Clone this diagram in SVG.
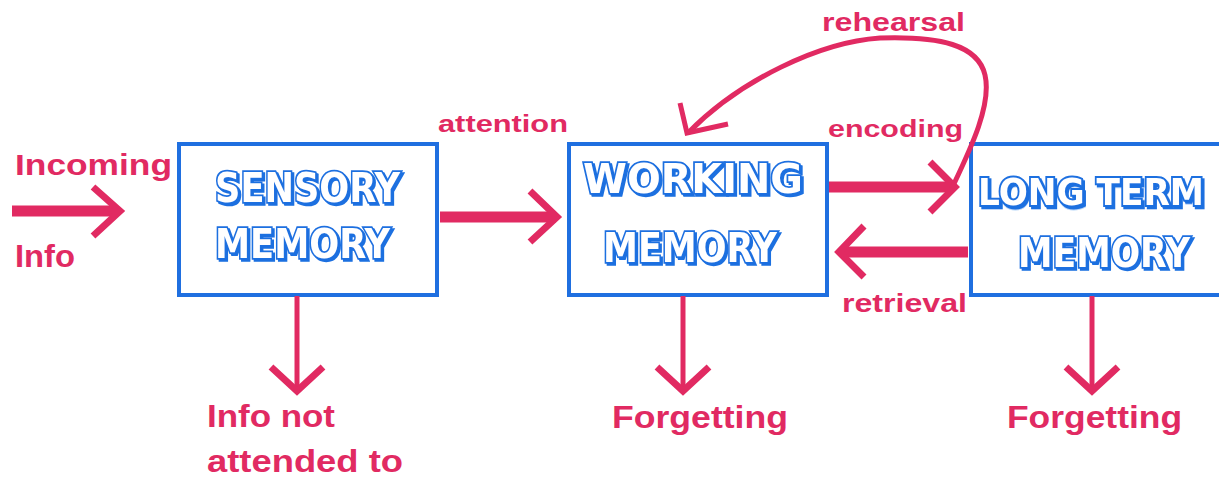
<svg xmlns="http://www.w3.org/2000/svg" width="1219" height="477" viewBox="0 0 1219 477">
<defs>
<filter id="shadow" x="-5%" y="-20%" width="110%" height="150%">
<feDropShadow dx="2" dy="2" stdDeviation="0" flood-color="#1f6fe0" flood-opacity="1"/>
</filter>
</defs>
<style>
.box{fill:#ffffff;stroke:#1f6fe0;stroke-width:4}
.bt{font-family:"DejaVu Sans","Liberation Sans",sans-serif;font-weight:bold;font-size:40px;fill:#ffffff;stroke:#1f6fe0;stroke-width:3.5;paint-order:stroke;filter:url(#shadow)}
.pt{font-family:"Liberation Sans",Arial,sans-serif;font-weight:bold;fill:#e12a62}
.shaft{stroke:#e12a62;stroke-width:11;fill:none}
.thin{stroke:#e12a62;stroke-width:5;fill:none}
.head{stroke:#e12a62;stroke-width:7;fill:none;stroke-linejoin:miter}
</style>
<rect width="1219" height="477" fill="#ffffff"/>
<g id="sensory">
<rect class="box" x="179" y="144" width="258" height="151"/>
<text class="bt" x="215" y="202" textLength="185" lengthAdjust="spacingAndGlyphs">SENSORY</text>
<text class="bt" x="215" y="258" textLength="175" lengthAdjust="spacingAndGlyphs">MEMORY</text>
</g>
<g id="working">
<rect class="box" x="569" y="144" width="258" height="151"/>
<text class="bt" x="583" y="193" textLength="220" lengthAdjust="spacingAndGlyphs">WORKING</text>
<text class="bt" x="603" y="262" textLength="174" lengthAdjust="spacingAndGlyphs">MEMORY</text>
</g>
<g id="longterm">
<rect class="box" x="971" y="144" width="262" height="151"/>
<text class="bt" transform="translate(978,205) scale(1,1.15)" x="0" y="0" font-size="33" style="font-size:33px" textLength="226" lengthAdjust="spacingAndGlyphs">LONG TERM</text>
<text class="bt" x="1018" y="267" textLength="172" lengthAdjust="spacingAndGlyphs">MEMORY</text>
</g>
<g id="connectors">
<path class="shaft" d="M12,211 L118,211"/>
<path class="head" d="M93,187 L120,211 L93,236"/>
<path class="shaft" d="M440,217 L556,217"/>
<path class="head" d="M530,191 L557,217 L530,242"/>
<path class="shaft" d="M829,187 L952,187"/>
<path class="head" d="M930,162 L955,187 L930,212"/>
<path class="shaft" d="M968,252 L840,252"/>
<path class="head" d="M864,226 L839,252 L864,277"/>
<path class="thin" d="M952,188 C970,150 992,105 985,75 C978,45 940,36 880,38 C820,42 740,80 688,133"/>
<path class="thin" d="M680,103 L687,133 L728,124"/>
<path class="thin" d="M297,296 L297,390"/>
<path class="head" d="M271,367 L297,391 L323,367"/>
<path class="thin" d="M683,296 L683,390"/>
<path class="head" d="M657,367 L683,391 L709,367"/>
<path class="thin" d="M1092,296 L1092,390"/>
<path class="head" d="M1066,367 L1092,391 L1118,367"/>
</g>
<g id="labels">
<text class="pt" x="15" y="175" font-size="30" textLength="157" lengthAdjust="spacingAndGlyphs">Incoming</text>
<text class="pt" x="15" y="267" font-size="32" textLength="60" lengthAdjust="spacingAndGlyphs">Info</text>
<text class="pt" x="438" y="132" font-size="24" textLength="130" lengthAdjust="spacingAndGlyphs">attention</text>
<text class="pt" x="822" y="31" font-size="25" textLength="143" lengthAdjust="spacingAndGlyphs">rehearsal</text>
<text class="pt" x="828" y="137" font-size="24" textLength="135" lengthAdjust="spacingAndGlyphs">encoding</text>
<text class="pt" x="842" y="312" font-size="25" textLength="125" lengthAdjust="spacingAndGlyphs">retrieval</text>
<text class="pt" x="207" y="427" font-size="32" textLength="128" lengthAdjust="spacingAndGlyphs">Info not</text>
<text class="pt" x="207" y="472" font-size="32" textLength="196" lengthAdjust="spacingAndGlyphs">attended to</text>
<text class="pt" x="612" y="428" font-size="32" textLength="176" lengthAdjust="spacingAndGlyphs">Forgetting</text>
<text class="pt" x="1007" y="428" font-size="32" textLength="175" lengthAdjust="spacingAndGlyphs">Forgetting</text>
</g>
</svg>
